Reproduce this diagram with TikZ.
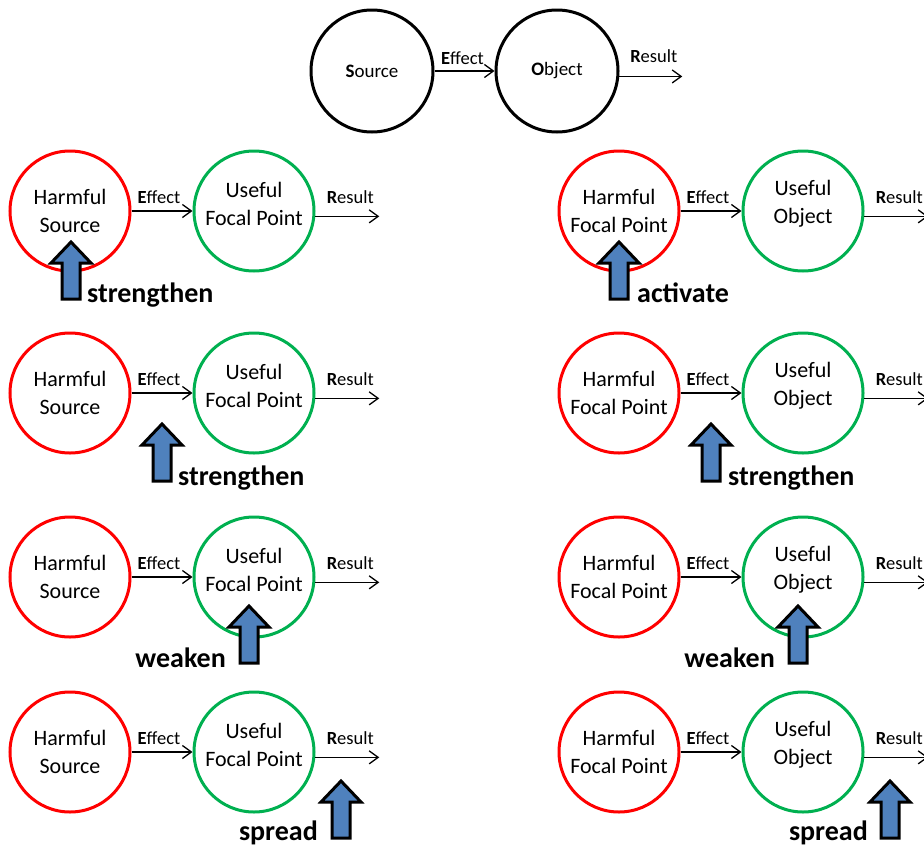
\documentclass[tikz,border=0pt]{standalone}
\usepackage{fontspec}
\setmainfont{Carlito}
\usetikzlibrary{arrows.meta,calc}
\definecolor{harm}{HTML}{FF0000}
\definecolor{good}{HTML}{00B050}
\definecolor{push}{HTML}{4F81BD}
\begin{document}
\begin{tikzpicture}[x=1pt,y=-1pt,
  ring/.style={circle,draw,line width=3pt,minimum size=120pt,inner sep=0pt},
  harmring/.style={ring,draw=harm},
  goodring/.style={ring,draw=good},
  basering/.style={ring,draw=black,minimum size=122pt},
  ringtext/.style={align=center,font=\fontsize{22}{28}\selectfont,inner sep=0pt},
  toptext/.style={font=\fontsize{19}{22}\selectfont,inner sep=0pt},
  flow/.style={line width=1.3pt,-{Straight Barb[length=9pt,width=13pt]}},
  flowtext/.style={font=\fontsize{18.5}{20}\selectfont,inner sep=0pt,anchor=base},
  verb/.style={font=\fontsize{28}{30}\selectfont\bfseries,inner sep=0pt},
  pusharrow/.pic={
    \draw[line width=3pt,fill=push,line join=miter]
      (-9,0) -- (-9,-36) -- (-20,-36) -- (0,-57) -- (20,-36) -- (9,-36) -- (9,0) -- cycle;}
]
\path[use as bounding box] (0,0) rectangle (924,849);

% generic model: source -> object
\node[basering] (src) at (372,71) {};
\node[toptext] (srct) at (src.center) {\textbf{S}ource};
\node[basering] (obj) at (557,71) {};
\node[toptext] (objt) at (obj.center) {\textbf{O}bject};
\draw[flow] (src) -- (obj);
\node[flowtext] (srce) at ($(src.east)!0.5!(obj.west)+(-2,-7)$) {\textbf{E}ffect};
\coordinate (objr) at ([xshift=63pt]obj.-5);
\draw[flow] (obj.-5) -- (objr);
\node[flowtext] (objres) at ($(obj.-5)!0.5!(objr)+(3,-14)$) {\textbf{R}esult};

% harmful / useful pairs
\foreach \n/\cx/\cy/\rtext/\gtext in {
  a/0/211/{Harmful\\Source}/{Useful\\Focal Point},
  b/0/393/{Harmful\\Source}/{Useful\\Focal Point},
  c/0/577/{Harmful\\Source}/{Useful\\Focal Point},
  d/0/752/{Harmful\\Source}/{Useful\\Focal Point},
  e/549/211/{Harmful\\Focal Point}/{Useful\\Object},
  f/549/393/{Harmful\\Focal Point}/{Useful\\Object},
  g/549/577/{Harmful\\Focal Point}/{Useful\\Object},
  h/549/752/{Harmful\\Focal Point}/{Useful\\Object}}
{
  \node[harmring] (h\n) at (70+\cx,\cy) {};
  \node[ringtext] (ht\n) at (h\n.center) {\rtext};
  \node[goodring] (u\n) at (254+\cx,\cy) {};
  \node[ringtext] (ut\n) at ([yshift=7pt]u\n.center) {\gtext};
  \draw[flow] (h\n) -- (u\n);
  \node[flowtext] (e\n) at ($(h\n.east)!0.5!(u\n.west)+(-3,-8)$) {\textbf{E}ffect};
  \coordinate (r\n) at ([xshift=64pt]u\n.-5);
  \draw[flow] (u\n.-5) -- (r\n);
  \node[flowtext] (rl\n) at ($(u\n.-5)!0.5!(r\n)+(3,-13)$) {\textbf{R}esult};
}

% interventions
\foreach \n/\ax/\ay/\vx/\vy/\va/\vt in {
  a/71/299/87/302/base west/strengthen,
  b/162/481/178/485/base west/strengthen,
  c/249/663/226/667/base east/weaken,
  d/341/838/318/840/base east/spread,
  e/619/299/637/302/base west/activate,
  f/711/481/728/485/base west/strengthen,
  g/798/663/775/667/base east/weaken,
  h/890/838/868/840/base east/spread}
{
  \pic at (\ax,\ay) {pusharrow};
  \node[verb,anchor=\va] (v\n) at (\vx,\vy) {\vt};
}
\end{tikzpicture}
\end{document}
